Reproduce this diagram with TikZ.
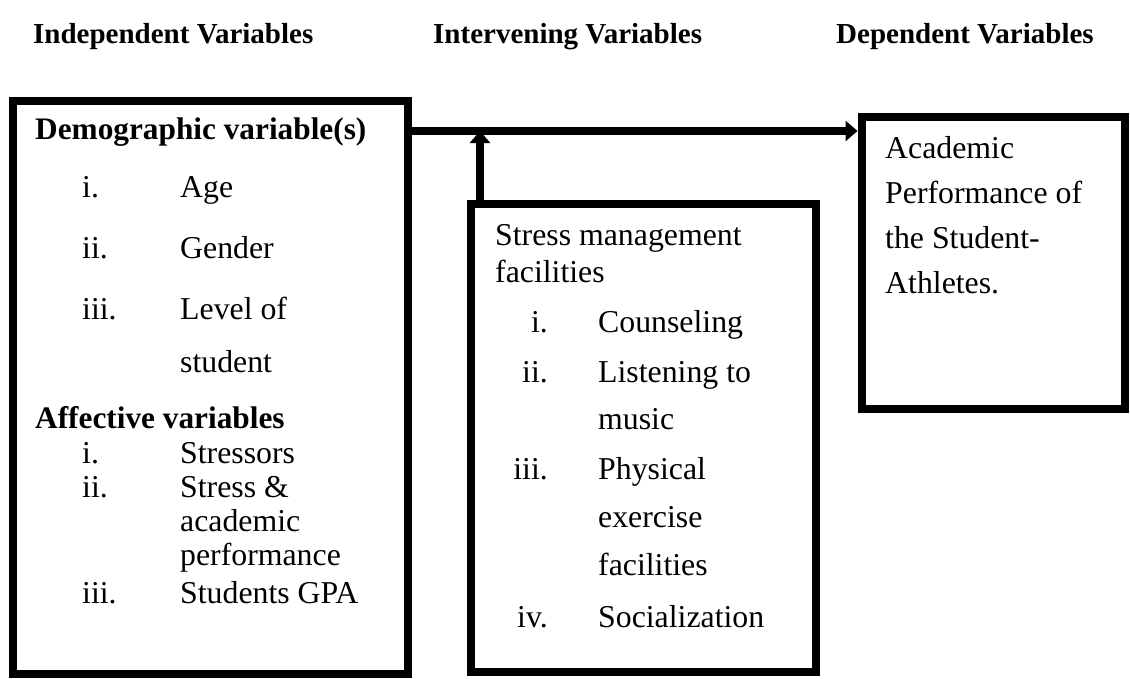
\documentclass[tikz,border=0pt]{standalone}
\usepackage{fontspec}
\setmainfont{Liberation Serif}
\usetikzlibrary{arrows.meta}
\tikzset{
  box/.style={draw, line width=8pt, inner sep=0pt},
  txt/.style={anchor=base west, inner sep=0pt, font=\fontsize{31.8}{37}\selectfont},
  btxt/.style={anchor=base west, inner sep=0pt, font=\fontsize{31.3}{37}\selectfont\bfseries},
  htxt/.style={anchor=base west, inner sep=0pt, font=\fontsize{29}{35}\selectfont\bfseries},
  arr/.style={line width=8pt, -{Triangle[length=12pt,width=20pt]}}
}
\begin{document}
\begin{tikzpicture}[x=1pt,y=-1pt]
\useasboundingbox (0,0) rectangle (1130,678);
% headers
\node[htxt] (h1) at (33,43) {Independent Variables};
\node[htxt] (h2) at (433,43) {Intervening Variables};
\node[htxt] (h3) at (836,43) {Dependent Variables};
% boxes
\node[box, minimum width=395.5pt, minimum height=573pt] (L) at (210.25,387.5) {};
\node[box, minimum width=345pt, minimum height=467.5pt] (M) at (643.5,437.75) {};
\node[box, minimum width=263.5pt, minimum height=292pt] (R) at (993.25,263) {};
% left box text
\node[btxt] (d0) at (35,139) {Demographic variable(s)};
\node[txt] (d1n) at (82,197) {i.};   \node[txt] (d1) at (180,197) {Age};
\node[txt] (d2n) at (82,258) {ii.};  \node[txt] (d2) at (180,258) {Gender};
\node[txt] (d3n) at (82,319) {iii.}; \node[txt] (d3) at (180,319) {Level of};
\node[txt] (d3b) at (180,372) {student};
\node[btxt] (a0) at (35,428) {Affective variables};
\node[txt] (a1n) at (82,463) {i.};   \node[txt] (a1) at (180,463) {Stressors};
\node[txt] (a2n) at (82,497) {ii.};  \node[txt] (a2) at (180,497) {Stress \&};
\node[txt] (a2b) at (180,531) {academic};
\node[txt] (a2c) at (180,565) {performance};
\node[txt] (a3n) at (82,603) {iii.}; \node[txt] (a3) at (180,603) {Students GPA};
% middle box text
\node[txt] (m0) at (495,245) {Stress management};
\node[txt] (m0b) at (495,282) {facilities};
\node[txt,anchor=base east] (m1n) at (548,332) {i.};   \node[txt] (m1) at (598,332) {Counseling};
\node[txt,anchor=base east] (m2n) at (548,382) {ii.};  \node[txt] (m2) at (598,382) {Listening to};
\node[txt] (m2b) at (598,429) {music};
\node[txt,anchor=base east] (m3n) at (548,479) {iii.}; \node[txt] (m3) at (598,479) {Physical};
\node[txt] (m3b) at (598,527) {exercise};
\node[txt] (m3c) at (598,575) {facilities};
\node[txt,anchor=base east] (m4n) at (548,627) {iv.};  \node[txt] (m4) at (598,627) {Socialization};
% right box text
\node[txt] (r1) at (885,158) {Academic};
\node[txt] (r2) at (885,203) {Performance of};
\node[txt] (r3) at (885,248) {the Student-};
\node[txt] (r4) at (885,293) {Athletes.};
% connectors
\coordinate (hy) at (0,131);
\coordinate (vx) at (480,0);
\draw[arr] (L.east |- hy) -- (R.west |- hy);
\draw[arr] (vx |- M.north) -- (vx |- hy);
\end{tikzpicture}
\end{document}
